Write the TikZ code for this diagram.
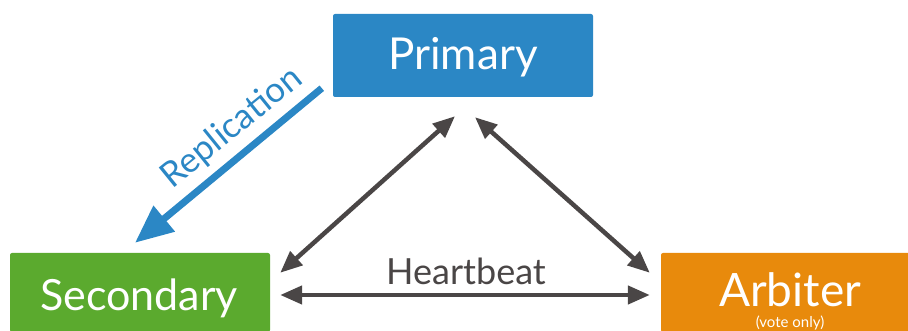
\documentclass[tikz,border=0pt]{standalone}
\usepackage{fontspec}
\setmainfont{Lato}
\usetikzlibrary{arrows.meta,calc}

\definecolor{priblue}{HTML}{2B87C5}
\definecolor{secgreen}{HTML}{5BAA2E}
\definecolor{arborange}{HTML}{E88A0C}
\definecolor{hbgray}{HTML}{4A4646}

\tikzset{
  rolebox/.style={rectangle, rounded corners=2pt, minimum height=83pt,
    inner sep=0pt, text=white},
  hbarrow/.style={draw=hbgray, line width=4.5pt,
    {Triangle[length=22pt,width=18pt]}-{Triangle[length=22pt,width=18pt]}},
  reparrow/.style={draw=priblue, line width=7pt,
    -{Triangle[length=38pt,width=32pt]}},
}

\begin{document}
\begin{tikzpicture}[x=1pt,y=-1pt]
  \useasboundingbox (0,0) rectangle (908,331);

  % the three replica-set members
  \node[rolebox, fill=priblue, minimum width=260pt, minimum height=83pt]
    (pri) at (463,55.5) {};
  \node[text=white, inner sep=0pt, anchor=base] (priname) at (463,70)
    {\fontsize{44}{50}\selectfont Primary};
  \node[rolebox, fill=secgreen, minimum width=260pt, minimum height=79pt]
    (sec) at (140,292.5) {};
  \node[text=white, inner sep=0pt, anchor=base] (secname) at (139,310)
    {\fontsize{43}{50}\selectfont Secondary};
  \node[rolebox, fill=arborange, minimum width=258pt, minimum height=79pt]
    (arb) at (790,292.5) {};
  \node[text=white, inner sep=0pt, anchor=base] (arbname) at (790,306)
    {\fontsize{46}{52}\selectfont Arbiter};
  \node[text=white, inner sep=0pt, anchor=base] (arbnote) at (790,327)
    {\fontsize{15}{18}\selectfont (vote only)};

  % replication from primary to secondary
  \draw[reparrow] ($(pri.south west)+(-11,-9)$) -- ($(sec.north)+(-5,-10)$);
  \node[text=priblue, rotate=39, inner sep=0pt] (replabel) at (232,128)
    {\fontsize{35}{40}\selectfont Replication};

  % heartbeat links between all members
  \draw[hbarrow] ($(sec.north east)+(10,20)$) -- ($(pri.south)+(-8,19)$);
  \draw[hbarrow] ($(pri.south)+(12,20)$) -- ($(arb.north west)+(-11,20)$);
  \draw[hbarrow] ($(sec.east)+(10,2.5)$) -- ($(arb.west)+(-11,2.5)$);
  \node[text=hbgray, inner sep=0pt, anchor=base] (hblabel) at (466,284)
    {\fontsize{36}{42}\selectfont Heartbeat};
\end{tikzpicture}
\end{document}
